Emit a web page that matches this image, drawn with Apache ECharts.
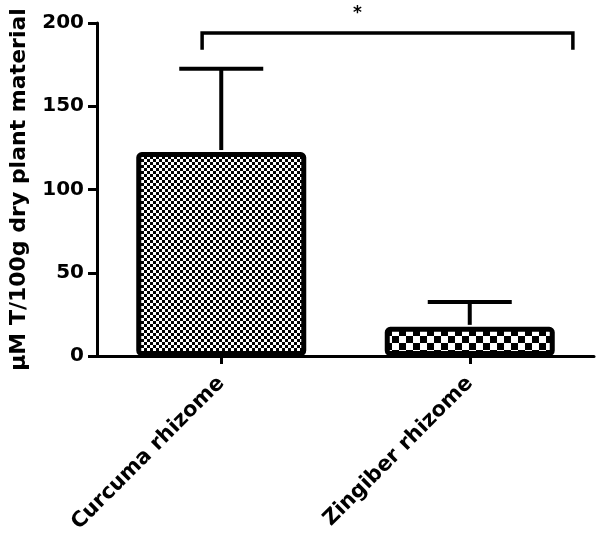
<!DOCTYPE html>
<html><head><meta charset="utf-8">
<script src="https://cdn.jsdelivr.net/npm/echarts@6/dist/echarts.min.js"></script>
<style>html,body{margin:0;padding:0;background:#fff}#c{width:600px;height:542px}</style>
</head><body><div id="c"></div>
<script>
var categories = ['Curcuma rhizome', 'Zingiber rhizome'];
var means = [122.5, 17.5];
var upperErr = [172.5, 32.5];
var yTicks = [0, 50, 100, 150, 200];
var sigLabel = '*';
var bracketY = [184, 194];
var bracketU = [-0.077, 1.415];
var starU = 0.548;

var FONT = '"DejaVu Sans", sans-serif';

function checker(cell) {
  var c = document.createElement('canvas');
  c.width = cell * 2; c.height = cell * 2;
  var g = c.getContext('2d');
  g.fillStyle = '#fff'; g.fillRect(0, 0, cell * 2, cell * 2);
  g.fillStyle = '#000';
  g.fillRect(0, 0, cell, cell);
  g.fillRect(cell, cell, cell, cell);
  return c;
}
var pat1 = checker(3);
var pat2 = checker(7);

var chart = echarts.init(document.getElementById('c'), null, {renderer: 'canvas'});
var option = {
  animation: false,
  backgroundColor: '#fff',
  grid: {left: 97, right: 6, top: 23, bottom: 186, containLabel: false},
  xAxis: {
    type: 'category', data: categories,
    axisLine: {lineStyle: {color: '#000', width: 3}},
    axisTick: {show: true, alignWithLabel: true, length: 8, lineStyle: {color: '#000', width: 3}},
    axisLabel: {rotate: 45, margin: 24, color: '#000', fontFamily: FONT, fontWeight: 'bold', fontSize: 21, interval: 0}
  },
  yAxis: {
    type: 'value', min: 0, max: 200, interval: 50,
    name: 'μM T/100g dry plant material', nameLocation: 'middle', nameGap: 67,
    nameTextStyle: {color: '#000', fontFamily: FONT, fontWeight: 'bold', fontSize: 22},
    axisLine: {show: true, lineStyle: {color: '#000', width: 3}},
    axisTick: {show: true, length: 9, lineStyle: {color: '#000', width: 3}},
    splitLine: {show: false},
    axisLabel: {color: '#000', fontFamily: FONT, fontWeight: 'bold', fontSize: 20, margin: 13,
      formatter: function (v) { return yTicks.indexOf(v) >= 0 ? String(v) : ''; }}
  },
  series: [
    {
      type: 'bar', barWidth: 170, z: 2,
      data: means.map(function (v, i) {
        return {value: v, itemStyle: {color: {image: i === 0 ? pat1 : pat2, repeat: 'repeat'}}};
      }),
      itemStyle: {borderColor: '#000', borderWidth: 5, borderRadius: 3}
    },
    {
      type: 'custom', z: 3,
      data: means.map(function (v, i) { return [i, v, upperErr[i]]; }),
      renderItem: function (params, api) {
        var base = api.coord([api.value(0), api.value(1)]);
        var top = api.coord([api.value(0), api.value(2)]);
        var half = 42;
        return {
          type: 'group',
          children: [
            {type: 'line', shape: {x1: base[0], y1: base[1] - 2, x2: top[0], y2: top[1]}, style: {stroke: '#000', lineWidth: 4}},
            {type: 'line', shape: {x1: top[0] - half, y1: top[1], x2: top[0] + half, y2: top[1]}, style: {stroke: '#000', lineWidth: 4}}
          ]
        };
      }
    }
  ]
};
chart.setOption(option);

var c0 = chart.convertToPixel({xAxisIndex: 0}, 0);
var c1 = chart.convertToPixel({xAxisIndex: 0}, 1);
var xl = c0 + bracketU[0] * (c1 - c0);
var xr = c0 + bracketU[1] * (c1 - c0);
var xs = c0 + starU * (c1 - c0);
var yb = chart.convertToPixel({yAxisIndex: 0}, bracketY[0]);
var yt = chart.convertToPixel({yAxisIndex: 0}, bracketY[1]);
chart.setOption({
  graphic: [
    {type: 'polyline', shape: {points: [[xl, yb], [xl, yt], [xr, yt], [xr, yb]]}, style: {stroke: '#000', lineWidth: 3.5, fill: null}},
    {type: 'text', x: xs, y: yt - 11, style: {text: sigLabel, fill: '#000', font: 'bold 17px ' + FONT, textAlign: 'center', textVerticalAlign: 'bottom'}}
  ]
});
</script></body></html>
